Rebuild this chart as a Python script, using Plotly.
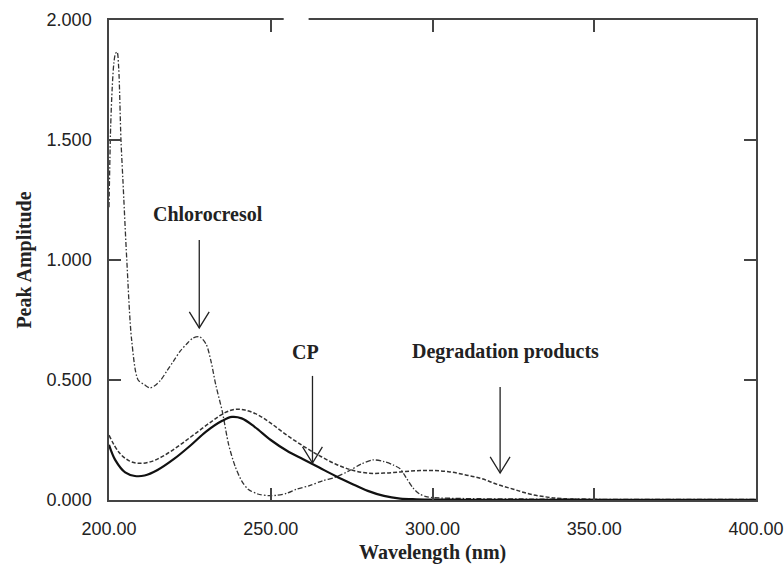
import plotly.graph_objects as go

# ---- data ----
cp_x = [200, 202, 205, 208, 211, 215, 220, 225, 230, 235, 238, 241, 245, 250, 255, 260,
        265, 270, 275, 280, 285, 290, 295, 300, 310, 320, 340, 360, 380, 400]
cp_y = [0.23, 0.165, 0.115, 0.10, 0.102, 0.125, 0.17, 0.225, 0.285, 0.33, 0.346, 0.34,
        0.305, 0.25, 0.205, 0.17, 0.135, 0.10, 0.068, 0.038, 0.017, 0.006, 0.003, 0.002,
        0.001, 0.001, 0.001, 0.001, 0.001, 0.001]

deg_x = [200, 203, 206, 209, 213, 217, 222, 227, 232, 236, 239, 242, 246, 250, 255, 260,
         265, 270, 275, 280, 285, 290, 295, 300, 305, 310, 315, 320, 325, 330, 335, 340,
         350, 360, 380, 400]
deg_y = [0.27, 0.20, 0.165, 0.153, 0.16, 0.185, 0.23, 0.28, 0.33, 0.365, 0.378, 0.375,
         0.355, 0.32, 0.27, 0.225, 0.185, 0.15, 0.125, 0.112, 0.112, 0.117, 0.122, 0.123,
         0.118, 0.105, 0.09, 0.065, 0.045, 0.025, 0.013, 0.006, 0.002, 0.001, 0.001, 0.001]

cc_x = [200, 200.5, 201, 201.5, 202, 202.5, 203, 203.7, 204.3, 205.5, 207, 209, 211,
        212.6, 214, 216, 218, 220, 222, 224, 226, 228, 230, 231.5, 233, 235, 237, 239,
        241, 243, 246, 249.5, 252, 255, 258, 262, 266, 270, 274, 278, 281.5, 285, 288,
        290, 292, 294, 296, 298, 300, 310, 330, 350, 375, 400]
cc_y = [1.22, 1.55, 1.72, 1.82, 1.86, 1.867, 1.80, 1.50, 1.333, 1.00, 0.667, 0.50, 0.48,
        0.467, 0.475, 0.50, 0.54, 0.58, 0.62, 0.65, 0.675, 0.68, 0.65, 0.58, 0.48, 0.37,
        0.23, 0.14, 0.08, 0.045, 0.025, 0.018, 0.02, 0.028, 0.045, 0.06, 0.08, 0.095,
        0.12, 0.15, 0.167, 0.16, 0.145, 0.13, 0.09, 0.05, 0.025, 0.014, 0.01, 0.006,
        0.004, 0.003, 0.003, 0.003]

x_ticks = [200, 250, 300, 350, 400]
x_tick_labels = ["200.00", "250.00", "300.00", "350.00", "400.00"]
y_ticks = [0, 0.5, 1.0, 1.5, 2.0]
y_tick_labels = ["0.000", "0.500", "1.000", "1.500", "2.000"]

labels = ["Chlorocresol", "CP", "Degradation products"]
label_x = [230.7, 260.7, 322.7]
label_y = [1.19, 0.617, 0.617]
arrow_x = [227.9, 262.9, 320.9]
arrow_tail = [1.083, 0.517, 0.471]
arrow_tip = [0.717, 0.154, 0.1125]

# ---- figure ----
fig = go.Figure()
fig.add_trace(go.Scatter(x=cc_x, y=cc_y, mode="lines", line_shape="spline",
                         line=dict(color="#333333", width=1.3, dash="5px,2px,1.5px,2px",
                                   smoothing=0.8),
                         showlegend=False))
fig.add_trace(go.Scatter(x=deg_x, y=deg_y, mode="lines", line_shape="spline",
                         line=dict(color="#333333", width=1.5, dash="4px,2px", smoothing=1.0),
                         showlegend=False))
fig.add_trace(go.Scatter(x=cp_x, y=cp_y, mode="lines", line_shape="spline",
                         line=dict(color="#111111", width=2.2, smoothing=1.0),
                         showlegend=False))

serif = "Liberation Serif, Times New Roman, serif"
sans = "Liberation Sans, Arial, sans-serif"

for t, lx, ly in zip(labels, label_x, label_y):
    fig.add_annotation(x=lx, y=ly, text="<b>%s</b>" % t, showarrow=False,
                       font=dict(family=serif, size=20, color="#222222"))

# x-axis title placed as a paper annotation, kept fully inside the page
fig.add_annotation(x=0.5, y=0, xref="paper", yref="paper", yanchor="bottom",
                   yshift=-66, text="<b>Wavelength (nm)</b>", showarrow=False,
                   font=dict(family=serif, size=20, color="#222222"))

dx = 3.07   # half-width of open arrowhead (nm)
dy = 0.067  # arrowhead length (y units)
for ax_, yt, yp in zip(arrow_x, arrow_tail, arrow_tip):
    fig.add_shape(type="line", x0=ax_, x1=ax_, y0=yt, y1=yp,
                  line=dict(color="#222222", width=1.3))
    fig.add_shape(type="path",
                  path="M %f,%f L %f,%f L %f,%f" % (ax_ - dx, yp + dy, ax_, yp, ax_ + dx, yp + dy),
                  line=dict(color="#222222", width=1.3))

# gap in top border
fig.add_shape(type="line", xref="x", yref="paper", x0=254, x1=261.7, y0=1, y1=1,
              line=dict(color="white", width=4), layer="above")

axis_common = dict(showgrid=False, zeroline=False, showline=True, linecolor="#444444",
                   linewidth=1.5, ticks="inside", ticklen=12, tickwidth=1.5,
                   tickcolor="#444444", mirror="ticks", automargin=False,
                   tickfont=dict(family=sans, size=18, color="#222222"))

fig.update_xaxes(range=[200, 400], tickvals=x_ticks, ticktext=x_tick_labels,
                 ticklabelstandoff=12, **axis_common)
fig.update_yaxes(range=[0, 2.0], tickvals=y_ticks, ticktext=y_tick_labels,
                 ticklabelstandoff=12,
                 title=dict(text="<b>Peak Amplitude</b>", standoff=10,
                            font=dict(family=serif, size=20, color="#222222")),
                 **axis_common)

fig.update_layout(width=784, height=566, margin=dict(l=109, r=28, t=20, b=66),
                  plot_bgcolor="white", paper_bgcolor="white")

fig.write_html("out.html")
